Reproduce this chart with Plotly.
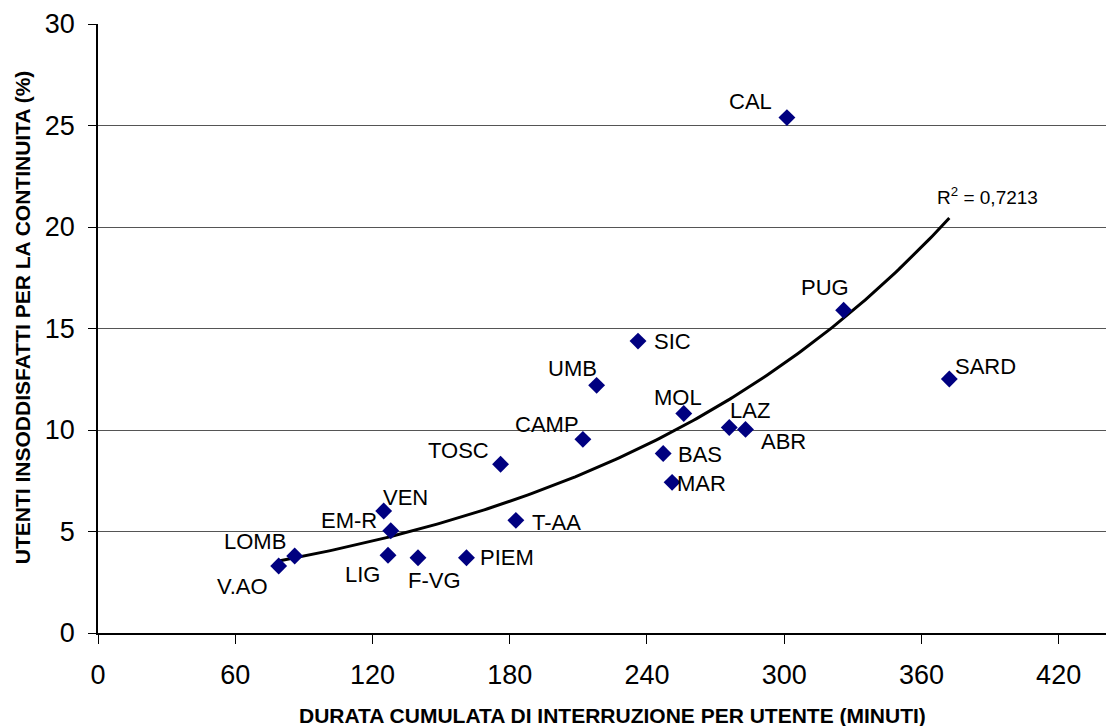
import numpy as np
import plotly.graph_objects as go

regions = ["V.AO", "LOMB", "VEN", "EM-R", "LIG", "F-VG", "PIEM", "T-AA", "TOSC", "CAMP",
           "UMB", "SIC", "MOL", "BAS", "MAR", "LAZ", "ABR", "CAL", "PUG", "SARD"]
durata = [79.0, 86.0, 124.9, 128.0, 126.8, 139.9, 161.1, 182.7, 176.0, 212.0,
          218.0, 236.1, 256.1, 247.1, 251.0, 276.0, 283.1, 301.2, 326.0, 372.2]
insoddisfatti = [3.30, 3.79, 6.01, 5.04, 3.83, 3.71, 3.71, 5.55, 8.31, 9.54,
                 12.2, 14.38, 10.81, 8.84, 7.42, 10.12, 10.03, 25.39, 15.9, 12.51]
x_ticks = [0, 60, 120, 180, 240, 300, 360, 420]
y_ticks = [0, 5, 10, 15, 20, 25, 30]
x_title = "DURATA CUMULATA DI INTERRUZIONE PER UTENTE (MINUTI)"
y_title = "UTENTI INSODDISFATTI PER LA CONTINUITA (%)"
r2_text = "R<sup>2</sup> = 0,7213"

# label offsets in pixels (dx, dy) relative to marker, style only
label_offsets = {
    "V.AO": (-36, 20), "LOMB": (-40, -15), "VEN": (22, -14), "EM-R": (-42, -10),
    "LIG": (-26, 19), "F-VG": (17, 23), "PIEM": (41, 0), "T-AA": (41, 2),
    "TOSC": (-42, -14), "CAMP": (-36, -15), "UMB": (-24, -17), "SIC": (34, 0),
    "MOL": (-6, -16), "BAS": (37, 1), "MAR": (29, 1), "LAZ": (21, -17),
    "ABR": (38, 12), "CAL": (-36, -16), "PUG": (-19, -23), "SARD": (36, -13),
}

xa = np.array(durata)
ya = np.array(insoddisfatti)
b, lna = np.polyfit(xa, np.log(ya), 1)
xt = np.linspace(xa.min(), xa.max(), 200)
yt = np.exp(lna) * np.exp(b * xt)

font = "Arial, Liberation Sans, sans-serif"
fig = go.Figure()
fig.add_trace(go.Scatter(x=xt, y=yt, mode="lines", line=dict(color="black", width=3),
                         hoverinfo="skip", showlegend=False))
fig.add_trace(go.Scatter(x=durata, y=insoddisfatti, mode="markers",
                         marker=dict(symbol="diamond", size=13, color="#000080"),
                         text=regions, showlegend=False))

for r, xv, yv in zip(regions, durata, insoddisfatti):
    dx, dy = label_offsets[r]
    fig.add_annotation(x=xv, y=yv, text=r, showarrow=False, xshift=dx, yshift=-dy,
                       font=dict(family=font, size=22, color="black"))

fig.add_annotation(x=xa.max(), y=yt[-1], text=r2_text, showarrow=False, xshift=38, yshift=22,
                   font=dict(family=font, size=19, color="black"))

fig.add_annotation(xref="paper", yref="paper", x=0.506, y=-0.136, text="<b>" + x_title + "</b>",
                   showarrow=False, xanchor="center", yanchor="middle",
                   font=dict(family=font, size=21, color="black"))
fig.add_annotation(xref="paper", yref="paper", x=-0.0748, y=0.517, text="<b>" + y_title + "</b>",
                   showarrow=False, xanchor="center", yanchor="middle", textangle=-90,
                   font=dict(family=font, size=21, color="black"))

# page body has an 8px default margin; size and margins compensate for it
fig.update_layout(
    width=1106, height=718, plot_bgcolor="white", paper_bgcolor="white",
    margin=dict(l=90, r=0, t=16, b=93),
    font=dict(family=font, color="black"),
)
fig.update_xaxes(range=[0, 444.2], tickvals=x_ticks, showgrid=False, zeroline=False,
                 showline=True, linecolor="black", linewidth=1.5, automargin=False,
                 ticks="outside", ticklen=9, tickcolor="black", ticklabelstandoff=8,
                 tickfont=dict(size=27))
fig.update_yaxes(range=[0, 30], tickvals=y_ticks, showgrid=True, gridcolor="#555555", gridwidth=1,
                 zeroline=False, showline=True, linecolor="black", linewidth=1.5, automargin=False,
                 ticks="outside", ticklen=8, tickcolor="black", ticklabelstandoff=8,
                 tickfont=dict(size=27))
fig.write_html("out.html")
